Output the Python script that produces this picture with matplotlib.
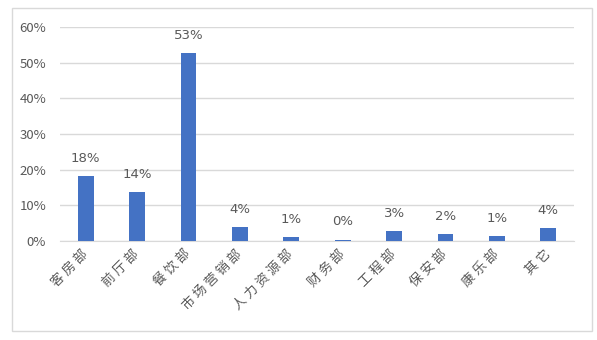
import matplotlib
matplotlib.use("Agg")
import matplotlib.pyplot as plt
from matplotlib.patches import Rectangle
from matplotlib.ticker import PercentFormatter
from matplotlib.transforms import ScaledTranslation

plt.rcParams['font.family'] = ['Noto Sans CJK SC', 'DejaVu Sans']

departments = ["客房部", "前厅部", "餐饮部", "市场营销部", "人力资源部",
               "财务部", "工程部", "保安部", "康乐部", "其它"]
shares = [0.183, 0.136, 0.528, 0.039, 0.011, 0.004, 0.027, 0.019, 0.014, 0.036]

text_color = "#595959"
grid_color = "#d9d9d9"

fig = plt.figure(figsize=(5.97, 3.40), dpi=100, facecolor="white")
# outer chart border
fig.patches.append(Rectangle((12 / 597, 1 - 331 / 340), 580 / 597, 323 / 340,
                             transform=fig.transFigure, fill=False,
                             edgecolor=grid_color, linewidth=1))

ax = fig.add_axes([60 / 597, 1 - 241 / 340, 514 / 597, 214 / 340])
x = range(len(departments))
bars = ax.bar(x, shares, width=0.31, color="#4472C4", zorder=3)

for b, v in zip(bars, shares):
    ax.annotate(f"{v * 100:.0f}%", (b.get_x() + b.get_width() / 2, v),
                xytext=(0, 8), textcoords="offset points",
                ha="center", va="bottom", fontsize=9.5, color=text_color,
                family="DejaVu Sans")

ax.set_xlim(-0.5, len(departments) - 0.5)
ax.set_ylim(0, 0.6)
ax.set_yticks([0, 0.1, 0.2, 0.3, 0.4, 0.5, 0.6])
ax.yaxis.set_major_formatter(PercentFormatter(1.0, decimals=0))
ax.set_xticks(list(x))
# spaced characters like the original
ax.set_xticklabels([" ".join(d) for d in departments], rotation=45, ha="right",
                   va="center", rotation_mode="anchor",
                   fontsize=9.5, color=text_color)
shift = ScaledTranslation(6 / 100, -9 / 100, fig.dpi_scale_trans)
for lbl in ax.get_xticklabels():
    lbl.set_transform(lbl.get_transform() + shift)
ax.tick_params(axis="y", length=0, labelsize=9.5, labelcolor=text_color, pad=10)
ax.tick_params(axis="x", length=0, pad=8)

ax.grid(axis="y", color=grid_color, linewidth=1)
ax.set_axisbelow(True)
for side in ["top", "right", "left"]:
    ax.spines[side].set_visible(False)
ax.spines["bottom"].set_color(grid_color)

fig.savefig("out.png", dpi=100, facecolor="white")
